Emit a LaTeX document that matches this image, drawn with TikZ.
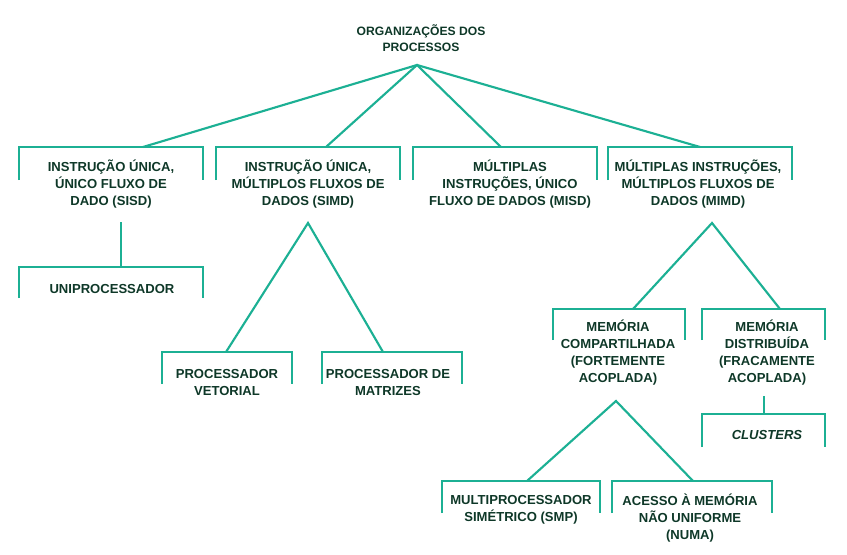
\documentclass[tikz,border=0pt]{standalone}
\usepackage{fontspec}
\setmainfont{Liberation Sans}
\definecolor{ln}{RGB}{28,176,148}
\definecolor{tx}{RGB}{14,56,40}
\tikzset{
  br/.style={draw=ln, line width=1.6pt},
  cn/.style={draw=ln, line width=1.6pt},
  lbl/.style={text=tx, align=center, inner sep=0pt,
    font=\fontsize{9.8}{12.75}\selectfont\bfseries},
}
\newcommand\brk[4]{\draw[br] (#1,#4) -- (#1,#3) -- (#2,#3) -- (#2,#4);}
\begin{document}
\begin{tikzpicture}[x=0.75pt,y=-0.75pt]
\useasboundingbox (0,0) rectangle (847,554);
% title
\node[lbl, font=\fontsize{9.1}{12.2}\selectfont\bfseries] (root) at (421,38) {ORGANIZAÇÕES DOS\\PROCESSOS};
\coordinate (apex) at (417,65);
% top level
\brk{19}{203}{147}{180}
\brk{216}{400}{147}{180}
\brk{413}{597}{147}{180}
\brk{608}{792}{147}{180}
\node[lbl] (sisd) at (111,184) {INSTRUÇÃO ÚNICA,\\ÚNICO FLUXO DE\\DADO (SISD)};
\node[lbl] (simd) at (308,184) {INSTRUÇÃO ÚNICA,\\MÚLTIPLOS FLUXOS DE\\DADOS (SIMD)};
\node[lbl] (misd) at (510,184) {MÚLTIPLAS\\INSTRUÇÕES, ÚNICO\\FLUXO DE DADOS (MISD)};
\node[lbl] (mimd) at (698,184) {MÚLTIPLAS INSTRUÇÕES,\\MÚLTIPLOS FLUXOS DE\\DADOS (MIMD)};
\coordinate (a1) at (143,147);
\coordinate (a2) at (326,147);
\coordinate (a3) at (501,147);
\coordinate (a4) at (700,147);
\draw[cn] (a1) -- (apex) -- (a4);
\draw[cn] (a2) -- (apex) -- (a3);
% SISD
\coordinate (s1) at (121,222);
\coordinate (s2) at (121,267);
\draw[cn] (s1) -- (s2);
\brk{19}{203}{267}{298}
\node[lbl] (uni) at (112,289) {UNIPROCESSADOR};
% SIMD
\coordinate (simdapex) at (308,223);
\coordinate (v1) at (226,352);
\coordinate (m1) at (383,352);
\draw[cn] (v1) -- (simdapex) -- (m1);
\brk{162}{292}{352}{384}
\brk{322}{462}{352}{384}
\node[lbl] (vet) at (227,382) {PROCESSADOR\\VETORIAL};
\node[lbl] (mat) at (388,382) {PROCESSADOR DE\\MATRIZES};
% MIMD
\coordinate (mimdapex) at (712,223);
\coordinate (c1) at (633,309);
\coordinate (d1) at (780,309);
\draw[cn] (c1) -- (mimdapex) -- (d1);
\brk{553}{685}{309}{340}
\brk{702}{825}{309}{340}
\node[lbl] (comp) at (618,353) {MEMÓRIA\\COMPARTILHADA\\(FORTEMENTE\\ACOPLADA)};
\node[lbl] (dist) at (767,353) {MEMÓRIA\\DISTRIBUÍDA\\(FRACAMENTE\\ACOPLADA)};
% clusters
\coordinate (k1) at (764,396);
\coordinate (k2) at (764,414);
\draw[cn] (k1) -- (k2);
\brk{702}{825}{414}{447}
\node[lbl, font=\fontsize{9.8}{12.75}\selectfont\bfseries\itshape] (clu) at (767,435) {CLUSTERS};
% shared memory children
\coordinate (shapex) at (616,401);
\coordinate (p1) at (527,481);
\coordinate (n1) at (693,481);
\draw[cn] (p1) -- (shapex) -- (n1);
\brk{442}{600}{481}{513}
\brk{612}{772}{481}{513}
\node[lbl] (smp) at (521,510) {MULTIPROCESSADOR\\SIMÉTRICO (SMP)};
\node[lbl] (numa) at (690,518) {ACESSO À MEMÓRIA\\NÃO UNIFORME\\(NUMA)};
\end{tikzpicture}
\end{document}
